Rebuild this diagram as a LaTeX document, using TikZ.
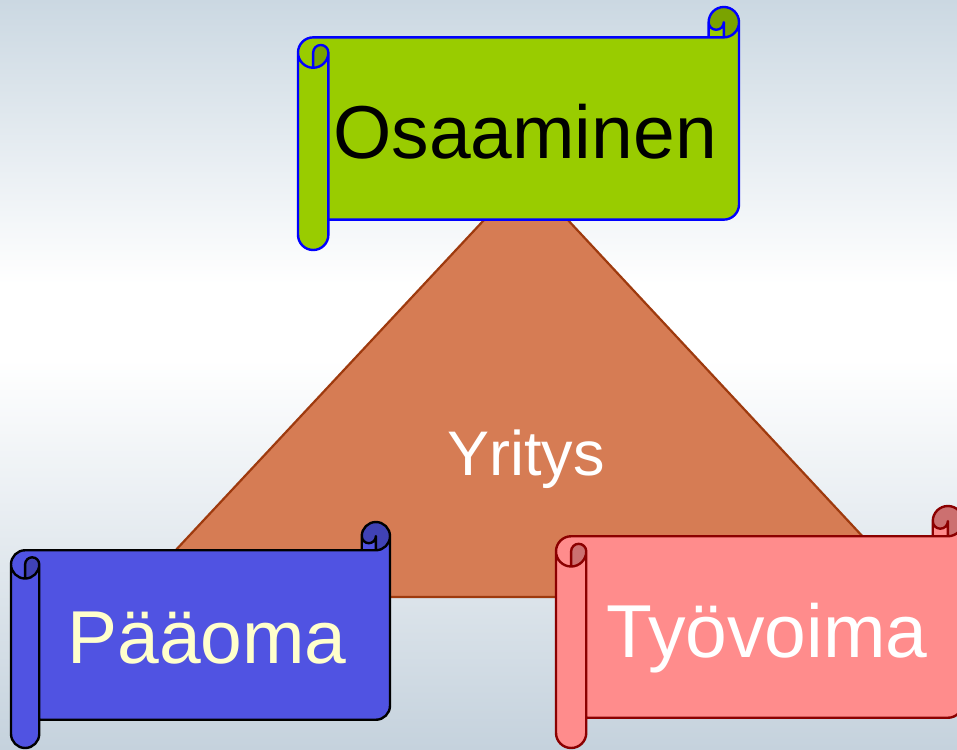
\documentclass[tikz,border=0pt]{standalone}
\usepackage{fontspec}
\setmainfont{Liberation Sans}
\definecolor{bgtop}{HTML}{CBD8E2}
\definecolor{bgbot}{HTML}{C5D2DD}
\definecolor{trifill}{HTML}{D67C54}
\definecolor{tristroke}{HTML}{9E3A0E}
\definecolor{osfill}{HTML}{99CC00}
\definecolor{osdark}{HTML}{7AA300}
\definecolor{osline}{HTML}{0000FF}
\definecolor{pafill}{HTML}{5053E2}
\definecolor{padark}{HTML}{4042B5}
\definecolor{paline}{HTML}{000000}
\definecolor{patext}{HTML}{FFFFCC}
\definecolor{tyfill}{HTML}{FF8C8C}
\definecolor{tydark}{HTML}{CC7070}
\definecolor{tyline}{HTML}{8B0000}
\pgfdeclareverticalshading{bgshade}{100bp}{color(0bp)=(bgbot); color(25bp)=(bgbot); color(51bp)=(white); color(56bp)=(white); color(75bp)=(bgtop); color(100bp)=(bgtop)}
% #1 left, #2 top, #3 width, #4 height, #5 fill, #6 dark fill, #7 line
\newcommand\drawscroll[7]{%
  \begin{scope}[shift={(#1,#2)}]
    \pgfmathsetmacro\scrW{#3}
    \pgfmathsetmacro\scrH{#4}
    \pgfmathsetmacro\scrch{0.125*min(#3,#4)}
    \pgfmathsetmacro\scrhh{\scrch/2}
    \pgfmathsetmacro\scrhq{\scrch/4}
    \pgfmathsetmacro\scrxa{\scrW-\scrch}
    \pgfmathsetmacro\scrxb{\scrW-\scrhh}
    \pgfmathsetmacro\scrya{1.5*\scrch}
    \pgfmathsetmacro\scryb{2*\scrch}
    \pgfmathsetmacro\scryc{\scrH-1.5*\scrch}
    \pgfmathsetmacro\scryd{\scrH-\scrch}
    \pgfmathsetmacro\scrye{\scrH-\scrhh}
    \fill[#5] (\scrW,\scrhh) arc[start angle=0,delta angle=90,radius=\scrhh pt]
      -- (\scrxb,\scrhh) arc[start angle=0,delta angle=180,radius=\scrhq pt]
      -- (\scrxa,\scrch) -- (\scrhh,\scrch)
      arc[start angle=270,delta angle=-90,radius=\scrhh pt]
      -- (0,\scrye) arc[start angle=180,delta angle=-180,radius=\scrhh pt]
      -- (\scrch,\scryd) -- (\scrxb,\scryd)
      arc[start angle=90,delta angle=-90,radius=\scrhh pt] -- cycle;
    \fill[#6] (\scrhh,\scryb) arc[start angle=90,delta angle=-90,radius=\scrhh pt]
      arc[start angle=0,delta angle=-180,radius=\scrhq pt] -- cycle;
    \fill[#6] (\scrxb,\scrch) arc[start angle=90,delta angle=-270,radius=\scrhh pt]
      arc[start angle=180,delta angle=-180,radius=\scrhq pt] -- cycle;
    \draw[scrollline,#7] (0,\scrya) arc[start angle=180,delta angle=90,radius=\scrhh pt]
      -- (\scrxa,\scrch) -- (\scrxa,\scrhh)
      arc[start angle=180,delta angle=180,radius=\scrhh pt]
      -- (\scrW,\scryc) arc[start angle=0,delta angle=90,radius=\scrhh pt]
      -- (\scrch,\scryd) -- (\scrch,\scrye)
      arc[start angle=0,delta angle=180,radius=\scrhh pt] -- cycle
      (\scrxa,\scrch) -- (\scrxb,\scrch) arc[start angle=90,delta angle=-90,radius=\scrhh pt]
      (\scrxb,\scrch) -- (\scrxb,\scrhh) arc[start angle=0,delta angle=180,radius=\scrhq pt]
      (\scrhh,\scryb) -- (\scrhh,\scrya) arc[start angle=180,delta angle=180,radius=\scrhq pt]
      arc[start angle=0,delta angle=180,radius=\scrhh pt]
      (\scrch,\scrya) -- (\scrch,\scryd);
  \end{scope}%
}
\begin{document}
\begin{tikzpicture}[x=1pt,y=1pt,
  scrollline/.style={line width=2.4pt,line join=round,line cap=round},
  bigtext/.style={font=\fontsize{75}{90}\selectfont,anchor=base,inner sep=0pt},
  tritext/.style={font=\fontsize{63}{75}\selectfont,anchor=base,inner sep=0pt,text=white}]
\useasboundingbox (0,-749) rectangle (957,0);
\clip (0,-749) rectangle (957,0);
\shade[shading=bgshade] (0,-749) rectangle (957,0);
\begin{scope}[yscale=-1]
  \coordinate (apex) at (526,175);
  \coordinate (bl) at (132,597);
  \coordinate (br) at (919,597);
  \filldraw[fill=trifill,draw=tristroke,line width=2.2pt,line join=miter] (apex) -- (br) -- (bl) -- cycle;
  \drawscroll{298}{7}{441}{243}{osfill}{osdark}{osline}
  \drawscroll{11}{522}{379}{226}{pafill}{padark}{paline}
  \drawscroll{556}{506}{407}{242}{tyfill}{tydark}{tyline}
  \node[tritext] (yritys) at (526,475) {Yritys};
  \node[bigtext,text=black] (osaaminen) at (525,158) {Osaaminen};
  \node[bigtext,text=patext] (paaoma) at (207,663) {Pääoma};
  \node[bigtext,text=white] (tyovoima) at (767,657) {Työvoima};
\end{scope}
\end{tikzpicture}
\end{document}
